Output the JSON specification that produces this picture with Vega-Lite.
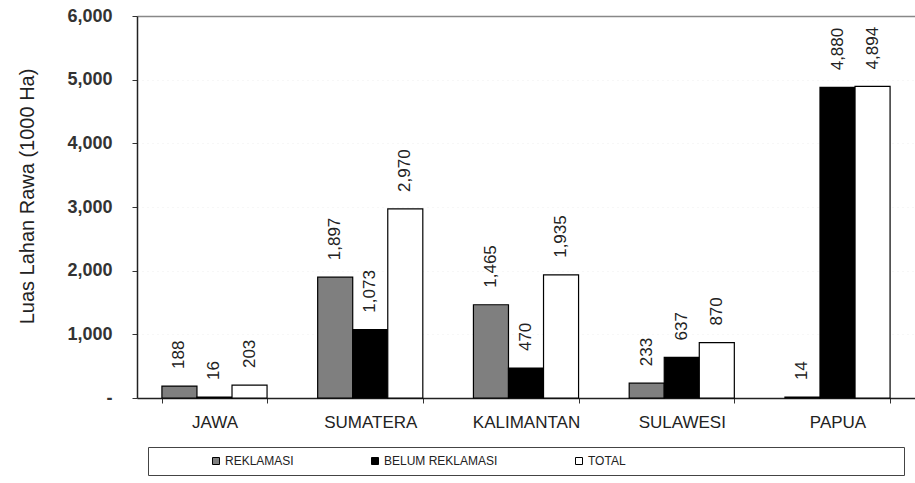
{
  "$schema": "https://vega.github.io/schema/vega-lite/v6.json",
  "width": 778,
  "height": 382,
  "autosize": {"type": "none"},
  "padding": {"left": 137, "top": 16, "right": 0, "bottom": 85},
  "background": "white",
  "config": {
    "font": "Liberation Sans",
    "view": {"stroke": null}
  },
  "data": {
    "values": [
      {"region": "JAWA", "kategori": "REKLAMASI", "nilai": 188},
      {"region": "JAWA", "kategori": "BELUM REKLAMASI", "nilai": 16},
      {"region": "JAWA", "kategori": "TOTAL", "nilai": 203},
      {"region": "SUMATERA", "kategori": "REKLAMASI", "nilai": 1897},
      {"region": "SUMATERA", "kategori": "BELUM REKLAMASI", "nilai": 1073},
      {"region": "SUMATERA", "kategori": "TOTAL", "nilai": 2970},
      {"region": "KALIMANTAN", "kategori": "REKLAMASI", "nilai": 1465},
      {"region": "KALIMANTAN", "kategori": "BELUM REKLAMASI", "nilai": 470},
      {"region": "KALIMANTAN", "kategori": "TOTAL", "nilai": 1935},
      {"region": "SULAWESI", "kategori": "REKLAMASI", "nilai": 233},
      {"region": "SULAWESI", "kategori": "BELUM REKLAMASI", "nilai": 637},
      {"region": "SULAWESI", "kategori": "TOTAL", "nilai": 870},
      {"region": "PAPUA", "kategori": "REKLAMASI", "nilai": 14},
      {"region": "PAPUA", "kategori": "BELUM REKLAMASI", "nilai": 4880},
      {"region": "PAPUA", "kategori": "TOTAL", "nilai": 4894}
    ]
  },
  "encoding": {
    "x": {
      "field": "region",
      "type": "nominal",
      "sort": ["JAWA", "SUMATERA", "KALIMANTAN", "SULAWESI", "PAPUA"],
      "scale": {"paddingInner": 0.325, "paddingOuter": 0.16},
      "axis": {
        "title": null,
        "labelAngle": 0,
        "labelFontSize": 17,
        "labelColor": "#222",
        "labelPadding": 11,
        "tickSize": 5,
        "tickBand": "extent",
        "tickColor": "#333",
        "domainColor": "#222",
        "domainWidth": 1.5
      }
    },
    "xOffset": {
      "field": "kategori",
      "type": "nominal",
      "sort": ["REKLAMASI", "BELUM REKLAMASI", "TOTAL"],
      "scale": {"paddingInner": 0, "paddingOuter": 0}
    },
    "y": {
      "field": "nilai",
      "type": "quantitative",
      "scale": {"domain": [0, 6000], "nice": false},
      "axis": {
        "title": "Luas Lahan Rawa (1000 Ha)",
        "titleFontSize": 20,
        "titleFontWeight": "normal",
        "titleColor": "#222",
        "titlePadding": 29,
        "titleY": 180,
        "values": [0, 1000, 2000, 3000, 4000, 5000, 6000],
        "labelExpr": "datum.value == 0 ? '-' : format(datum.value, ',')",
        "labelFontSize": 18,
        "labelFontWeight": "bold",
        "labelColor": "#333",
        "labelPadding": 20,
        "tickSize": 5,
        "tickColor": "#333",
        "domainColor": "#222",
        "domainWidth": 1.5,
        "grid": true,
        "gridColor": {"condition": {"test": "datum.value == 6000", "value": "#888"}, "value": "#eeeeee"},
        "gridDash": {"condition": {"test": "datum.value == 6000", "value": []}, "value": [1, 4]},
        "gridWidth": {"condition": {"test": "datum.value == 6000", "value": 1.5}, "value": 1}
      }
    }
  },
  "layer": [
    {
      "mark": {"type": "bar", "stroke": "black", "strokeWidth": 1.2},
      "encoding": {
        "color": {
          "field": "kategori",
          "type": "nominal",
          "scale": {
            "domain": ["REKLAMASI", "BELUM REKLAMASI", "TOTAL"],
            "range": ["#7f7f7f", "#000000", "#ffffff"]
          },
          "legend": {
            "orient": "none",
            "legendX": 11,
            "legendY": 431,
            "direction": "horizontal",
            "title": "\u2800\u2800\u2800\u2800\u2800",
            "titleOrient": "left",
            "titleFontSize": 12,
            "titlePadding": 9,
            "padding": 8,
            "columnPadding": 75,
            "strokeColor": "#444",
            "fillColor": "white",
            "symbolType": "square",
            "symbolSize": 49,
            "symbolStrokeColor": "black",
            "symbolStrokeWidth": 1,
            "labelFontSize": 12,
            "labelColor": "#222",
            "labelOffset": 3,
            "labelLimit": 2000,
            "labelExpr": "datum.label === 'TOTAL' ? pad(datum.label, 35, '\u2800') : datum.label"
          }
        }
      }
    },
    {
      "mark": {
        "type": "text",
        "angle": 270,
        "align": "left",
        "baseline": "middle",
        "dx": 17,
        "fontSize": 17,
        "color": "#222"
      },
      "encoding": {
        "text": {"field": "nilai", "type": "quantitative", "format": ","}
      }
    }
  ]
}
